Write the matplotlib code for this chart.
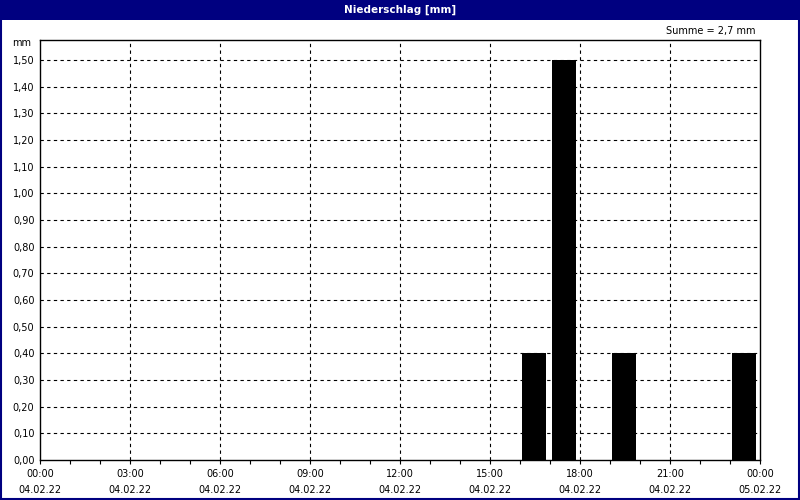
import numpy as np
import matplotlib
matplotlib.use('Agg')
import matplotlib.pyplot as plt
from matplotlib.patches import Rectangle

# hourly precipitation, hour = start of interval
hours = [16, 17, 19, 23]
rain_mm = [0.4, 1.5, 0.4, 0.4]
tick_hours = [0, 3, 6, 9, 12, 15, 18, 21, 24]
tick_times = ["00:00", "03:00", "06:00", "09:00", "12:00", "15:00", "18:00", "21:00", "00:00"]
tick_dates = ["04.02.22"] * 8 + ["05.02.22"]
title = "Niederschlag [mm]"
unit = "mm"

navy = "#000080"
plt.rcParams['font.family'] = ['DejaVu Sans']

fig = plt.figure(figsize=(8, 5), dpi=100)
fig.patch.set_facecolor("white")

# title bar + outer frame
fig.patches.append(Rectangle((0, 0.96), 1, 0.04, transform=fig.transFigure,
                             facecolor=navy, edgecolor="none", zorder=0))
fig.patches.append(Rectangle((0.001, 0.002), 0.998, 0.996, transform=fig.transFigure,
                             facecolor="none", edgecolor=navy, linewidth=1.5, zorder=1))
fig.text(0.5, 0.981, title, color="white", fontsize=7.5, fontweight="bold",
         ha="center", va="center")

ax = fig.add_axes([0.05, 0.08, 0.90, 0.84])
ax.bar(np.array(hours) + 0.07, rain_mm, width=0.8, align="edge", color="black", zorder=3)

ax.set_xlim(0, 24)
ax.set_ylim(0, 1.575)

yt = np.arange(0, 1.51, 0.1)
ax.set_yticks(yt)
ax.set_yticklabels([f"{v:.2f}".replace(".", ",") for v in yt], fontsize=7)
ax.tick_params(axis="y", length=0, pad=4)

ax.set_xticks(tick_hours)
ax.set_xticklabels([f"{t}\n{d}" for t, d in zip(tick_times, tick_dates)],
                   fontsize=7, linespacing=1.75)
ax.set_xticks(range(25), minor=True)
ax.tick_params(axis="x", which="both", length=3, direction="out", width=0.8, pad=3.5)

# grid: horizontal every 0.1, vertical every 3 h (inner only)
for v in yt[1:]:
    ax.axhline(v, color="black", linewidth=0.8, linestyle=(0, (3, 3)), zorder=1)
for h in tick_hours[1:-1]:
    ax.axvline(h, color="black", linewidth=0.8, linestyle=(0, (3, 3)), zorder=1)

for s in ax.spines.values():
    s.set_linewidth(1.0)

ax.text(-0.012, 1.563, unit, transform=ax.get_yaxis_transform(), ha="right",
        va="center", fontsize=7)
fig.text(0.944, 0.938, f"Summe = {sum(rain_mm):.1f} mm".replace(".", ","),
         ha="right", va="center", fontsize=7)

fig.savefig("out.png", dpi=100)
